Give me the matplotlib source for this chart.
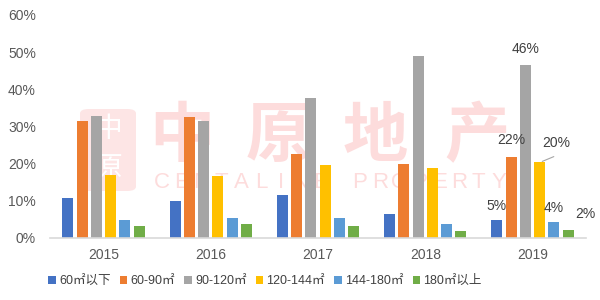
import numpy as np
import matplotlib
matplotlib.use('Agg')
import matplotlib.pyplot as plt
from matplotlib.patches import FancyBboxPatch

plt.rcParams['font.family'] = ['Liberation Sans', 'Noto Sans CJK SC', 'DejaVu Sans']

# 数据
years = ['2015', '2016', '2017', '2018', '2019']
series_names = ['60㎡以下', '60-90㎡', '90-120㎡', '120-144㎡', '144-180㎡', '180㎡以上']
below_60 = [10.8, 9.9, 11.5, 6.4, 4.8]
s60_90 = [31.5, 32.6, 22.7, 20.0, 21.8]
s90_120 = [32.8, 31.6, 37.7, 49.0, 46.6]
s120_144 = [16.9, 16.7, 19.7, 18.8, 20.3]
s144_180 = [4.7, 5.4, 5.4, 3.8, 4.4]
above_180 = [3.3, 3.7, 3.1, 1.9, 2.2]
label_2019 = ['5%', '22%', '46%', '20%', '4%', '2%']

colors = ['#4472C4', '#ED7D31', '#A5A5A5', '#FFC000', '#5B9BD5', '#70AD47']
all_series = [below_60, s60_90, s90_120, s120_144, s144_180, above_180]

fig = plt.figure(figsize=(6, 3), dpi=100)
ax = fig.add_axes([0.083, 0.207, 0.894, 0.743])
ax.set_facecolor('none')

# 水印 (画在坐标轴后面)
wm = '#FDDCDC'
for ch, xc in zip('中原地产', [182, 278, 375, 477]):
    fig.text(xc / 600, 1 - 137 / 300, ch, fontsize=47, color=wm, fontweight='bold',
             family=['Noto Sans CJK SC'], ha='center', va='center', zorder=-2)
eng = 'CENTALINE PROPERTY'
for i, ch in enumerate(eng):
    fig.text((162 + i * 19.8) / 600, 1 - 183 / 300, ch, fontsize=16, color=wm,
             ha='center', va='center', zorder=-2)
logo = FancyBboxPatch((80 / 600, 1 - 191 / 300), 56 / 600, 82 / 300,
                      boxstyle='round,pad=0,rounding_size=0.015',
                      transform=fig.transFigure, facecolor='#FDE5E5', edgecolor='none', zorder=-3)
fig.patches.append(logo)
fig.text(108 / 600, 1 - 129 / 300, '中', fontsize=20, color='white', family=['Noto Sans CJK SC'],
         ha='center', va='center', zorder=-2)
fig.text(108 / 600, 1 - 168 / 300, '原', fontsize=20, color='white', family=['Noto Sans CJK SC'],
         ha='center', va='center', zorder=-2)

x = np.arange(len(years))
step = 0.133
width = 0.103
bars = []
for i, (vals, c, name) in enumerate(zip(all_series, colors, series_names)):
    b = ax.bar(x + (i - 2.5) * step, np.array(vals) / 100, width, color=c, label=name, zorder=2)
    bars.append(b)

# 2019 数据标签
offsets = [(0, 5), (0, 7), (0, 6), (12, 9), (0, 5), (12, 6)]
for i, (b, lab) in enumerate(zip(bars, label_2019)):
    r = b[-1]
    xc = r.get_x() + r.get_width() / 2
    top = r.get_height()
    dx, dy = offsets[i]
    ax.annotate(lab, (xc, top), xytext=(dx, dy), textcoords='offset points',
                ha='center', va='bottom', fontsize=10, color='#404040')
# 20% 引线
r = bars[3][-1]
ax.annotate('', (r.get_x() + r.get_width() / 2, r.get_height()), xytext=(12, 5),
            textcoords='offset points',
            arrowprops=dict(arrowstyle='-', color='#A6A6A6', lw=0.8))

ax.set_xlim(-0.5, 4.5)
ax.set_ylim(0, 0.6)
ax.set_yticks(np.arange(0, 0.61, 0.1))
ax.set_yticklabels([f'{int(round(v * 100))}%' for v in np.arange(0, 0.61, 0.1)])
ax.set_xticks(x)
ax.set_xticklabels(years)
ax.tick_params(length=0, labelsize=10, labelcolor='#595959')
ax.tick_params(axis='x', pad=7)
ax.tick_params(axis='y', pad=10)
for s in ['top', 'right', 'left']:
    ax.spines[s].set_visible(False)
ax.spines['bottom'].set_color('#D9D9D9')
ax.spines['bottom'].set_linewidth(1.2)

fig.legend(loc='center', bbox_to_anchor=(265 / 600, 1 - 281 / 300), ncol=6, frameon=False,
           fontsize=9, handlelength=0.6, handleheight=0.6, handletextpad=0.25,
           columnspacing=0.75, labelcolor='#404040')

fig.savefig('out.png', dpi=100)
